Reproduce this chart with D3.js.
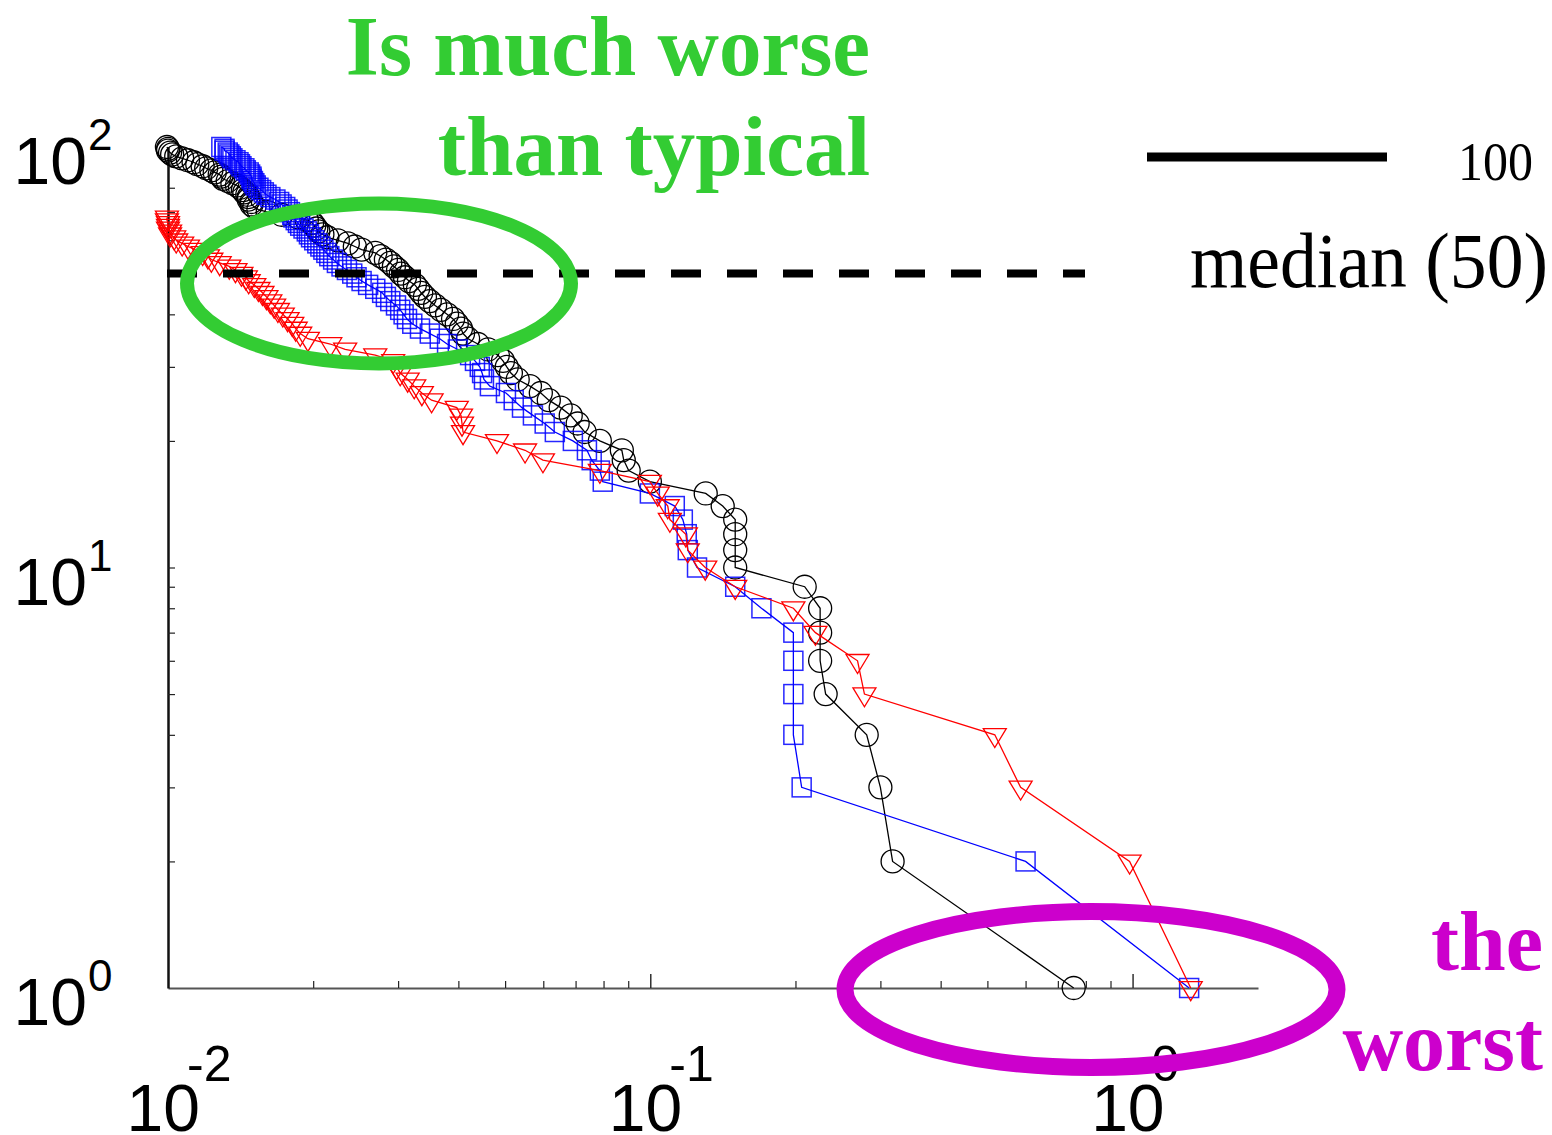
<!DOCTYPE html>
<html>
<head>
<meta charset="utf-8">
<script src="https://cdn.jsdelivr.net/npm/d3@7"></script>
<style>
  html, body { margin: 0; padding: 0; background: #fff; }
  svg { display: block; }
</style>
</head>
<body>
<svg id="chart" width="1552" height="1135"></svg>
<script>
// Rank of each entry (1 = worst), shared by the three curves
const ranks = [
  1, 2, 3, 4, 5, 6, 7, 8, 9, 10, 11, 12, 13, 14, 15, 16, 17, 18, 19, 20,
  21, 22, 23, 24, 25, 26, 27, 28, 29, 30, 31, 32, 33, 34, 35, 36, 37, 38, 39, 40,
  41, 42, 43, 44, 45, 46, 47, 48, 49, 50, 51, 52, 53, 54, 55, 56, 57, 58, 59, 60,
  61, 62, 63, 64, 65, 66, 67, 68, 69, 70, 71, 72, 73, 74, 75, 76, 77, 78, 79, 80,
  81, 82, 83, 84, 85, 86, 87, 88, 89, 90, 91, 92, 93, 94, 95, 96, 97, 98, 99, 100
];

// Black circles: value at each rank
const blackX = [
  0.755, 0.318, 0.300, 0.281, 0.231, 0.225, 0.225, 0.225, 0.209, 0.150,
  0.150, 0.150, 0.150, 0.1413, 0.1303, 0.0998, 0.0902, 0.0881, 0.0873, 0.0786,
  0.0731, 0.0707, 0.0684, 0.0652, 0.0616, 0.0593, 0.0563, 0.0531, 0.0514, 0.0504,
  0.0495, 0.0483, 0.0461, 0.0439, 0.0419, 0.0409, 0.0405, 0.0397, 0.0390, 0.0379,
  0.0368, 0.0358, 0.0349, 0.0341, 0.0335, 0.0330, 0.0325, 0.0316, 0.0310, 0.0304,
  0.0300, 0.0294, 0.0289, 0.0283, 0.0276, 0.0269, 0.0252, 0.0244, 0.0236, 0.0225,
  0.0214, 0.0209, 0.0205, 0.0203, 0.0201, 0.0199, 0.0194, 0.0186, 0.0172, 0.0161,
  0.0154, 0.0151, 0.0149, 0.0149, 0.0147, 0.0147, 0.0146, 0.0144, 0.0143, 0.0141,
  0.0139, 0.0136, 0.0133, 0.0130, 0.0129, 0.0128, 0.0125, 0.0123, 0.0120, 0.0118,
  0.0115, 0.0113, 0.0110, 0.0107, 0.0104, 0.0102, 0.0101, 0.0100, 0.0100, 0.00995
];

// Blue squares
const blueX = [
  1.31, 0.600, 0.206, 0.198, 0.198, 0.198, 0.198, 0.170, 0.150, 0.125,
  0.1196, 0.119, 0.1168, 0.1124, 0.0998, 0.0797, 0.0786, 0.0756, 0.0739, 0.0691,
  0.0634, 0.0604, 0.0571, 0.0542, 0.0521, 0.0502, 0.0465, 0.0452, 0.0448, 0.0443,
  0.0433, 0.0423, 0.0399, 0.0379, 0.0366, 0.0349, 0.0333, 0.0321, 0.0313, 0.0308,
  0.0303, 0.0297, 0.0289, 0.0283, 0.0278, 0.0269, 0.0260, 0.0252, 0.0246, 0.0241,
  0.0235, 0.0229, 0.0224, 0.0220, 0.0216, 0.0213, 0.0210, 0.0207, 0.0204, 0.0201,
  0.0198, 0.0196, 0.0194, 0.0191, 0.0188, 0.0186, 0.0184, 0.0182, 0.0181, 0.0179,
  0.0177, 0.0175, 0.0172, 0.0170, 0.0167, 0.0163, 0.0160, 0.0158, 0.0156, 0.0154,
  0.0152, 0.0151, 0.0150, 0.0149, 0.0149, 0.0148, 0.0147, 0.0145, 0.0144, 0.0142,
  0.0141, 0.0140, 0.0138, 0.0136, 0.0135, 0.0134, 0.0133, 0.0131, 0.0131, 0.0129
];

// Red triangles (68 ranks)
const redX = [
  1.32, 0.986, 0.586, 0.518, 0.278, 0.269, 0.220, 0.198, 0.150, 0.130,
  0.1196, 0.1185, 0.1098, 0.1087, 0.1036, 0.0998, 0.0786, 0.0599, 0.0550, 0.0481,
  0.0409, 0.0407, 0.0405, 0.0397, 0.0352, 0.0336, 0.0324, 0.0314, 0.0303, 0.0298,
  0.0293, 0.0269, 0.0233, 0.0217, 0.0195, 0.0188, 0.0184, 0.0181, 0.0177, 0.0173,
  0.0169, 0.0166, 0.0163, 0.0160, 0.0157, 0.0154, 0.0151, 0.0147, 0.0145, 0.0142,
  0.0138, 0.0134, 0.0128, 0.0123, 0.0121, 0.0118, 0.0114, 0.0110, 0.0107, 0.0104,
  0.0103, 0.0101, 0.0101, 0.0100, 0.0100, 0.0100, 0.00995, 0.00995
];

const xMajorTicks = [0.01, 0.1, 1];
const xMajorExps = ["-2", "-1", "0"];
const yMajorTicks = [1, 10, 100];
const yMajorExps = ["0", "1", "2"];

const medianValue = 50;
const legendLabels = ["100", "median (50)"];
const noteTop = ["Is much worse", "than typical"];
const noteBottom = ["the", "worst"];

const svg = d3.select("#chart");
const sans = "'Liberation Sans', Arial, sans-serif";
const serif = "'Liberation Serif', 'Times New Roman', serif";

const x = d3.scaleLog().domain([0.01, 1.82]).range([168, 1258]);
const y = d3.scaleLog().domain([1, 100]).range([988, 147]);

// ---- axes (ticks point inward) ----
const xMinor = x.ticks().filter(v => !xMajorTicks.some(m => Math.abs(m - v) < 1e-9));
const yMinor = y.ticks().filter(v => !yMajorTicks.some(m => Math.abs(m - v) < 1e-9));

const gx = svg.append("g").attr("transform", `translate(0,${y(1)})`)
  .call(d3.axisBottom(x).tickValues(xMinor).tickSizeInner(-7).tickSizeOuter(0).tickFormat(""));
gx.select(".domain").attr("stroke", "#555").attr("stroke-width", 2);
gx.selectAll(".tick line").attr("stroke", "#222").attr("stroke-width", 1.2);

const gxMaj = svg.append("g").attr("transform", `translate(0,${y(1)})`)
  .call(d3.axisBottom(x).tickValues(xMajorTicks.slice(1)).tickSizeInner(-14).tickSizeOuter(0).tickFormat(""));
gxMaj.select(".domain").remove();
gxMaj.selectAll(".tick line").attr("stroke", "#222").attr("stroke-width", 1.4);

const gy = svg.append("g").attr("transform", `translate(${x(0.01)},0)`)
  .call(d3.axisLeft(y).tickValues(yMinor.concat([10])).tickSizeInner(-7).tickSizeOuter(0).tickFormat(""));
gy.select(".domain").attr("stroke", "#111").attr("stroke-width", 2.5);
gy.selectAll(".tick line").attr("stroke", "#222").attr("stroke-width", 1.2);

// ---- tick labels: "10" with a superscript exponent, one text element each ----
xMajorTicks.forEach((v, i) => {
  const px = x(v);
  const t = svg.append("text").attr("font-family", sans);
  t.append("tspan").attr("x", px + 32).attr("y", 1131)
    .attr("text-anchor", "end").attr("font-size", 66).text("10");
  t.append("tspan").attr("x", px + 19).attr("y", 1081)
    .attr("text-anchor", "start").attr("font-size", 50).text(xMajorExps[i]);
});
yMajorTicks.forEach((v, i) => {
  const py = y(v);
  const t = svg.append("text").attr("font-family", sans);
  t.append("tspan").attr("x", 87).attr("y", py + 37)
    .attr("text-anchor", "end").attr("font-size", 66).text("10");
  t.append("tspan").attr("x", 88).attr("y", py + 3)
    .attr("text-anchor", "start").attr("font-size", 44).text(yMajorExps[i]);
});

// ---- series ----
const toPoints = vals => vals.map((v, i) => ({ v: v, r: ranks[i] }));
const line = d3.line().x(d => x(d.v)).y(d => y(d.r));

function drawSeries(vals, color, shape) {
  const pts = toPoints(vals);
  const g = svg.append("g");
  g.append("path").datum(pts).attr("d", line)
    .attr("fill", "none").attr("stroke", color).attr("stroke-width", 1.3);
  const m = g.selectAll(".m").data(pts).enter();
  if (shape === "circle") {
    m.append("circle").attr("cx", d => x(d.v)).attr("cy", d => y(d.r)).attr("r", 11.5)
      .attr("fill", "none").attr("stroke", color).attr("stroke-width", 1.3);
  } else if (shape === "square") {
    m.append("rect").attr("x", d => x(d.v) - 9.5).attr("y", d => y(d.r) - 9.5)
      .attr("width", 19).attr("height", 19)
      .attr("fill", "none").attr("stroke", color).attr("stroke-width", 1.5).attr("stroke-opacity", 0.85);
  } else {
    m.append("path")
      .attr("d", d => {
        const cx = x(d.v), cy = y(d.r);
        return `M${cx - 11.5},${cy - 6.3}L${cx + 11.5},${cy - 6.3}L${cx},${cy + 12.7}Z`;
      })
      .attr("fill", "none").attr("stroke", color).attr("stroke-width", 1.3);
  }
}

drawSeries(blackX, "#000000", "circle");
drawSeries(blueX, "#0000ff", "square");
drawSeries(redX, "#ff0000", "triangle");

// ---- median reference line and legend ----
svg.append("line").attr("x1", 167).attr("x2", 1085)
  .attr("y1", y(medianValue)).attr("y2", y(medianValue))
  .attr("stroke", "#000").attr("stroke-width", 8).attr("stroke-dasharray", "30,26");

svg.append("line").attr("x1", 1147).attr("x2", 1387).attr("y1", 157).attr("y2", 157)
  .attr("stroke", "#000").attr("stroke-width", 9);
svg.append("text").attr("x", 1458).attr("y", 180)
  .attr("font-family", serif).attr("font-size", 54)
  .attr("textLength", 75).attr("lengthAdjust", "spacingAndGlyphs").text(legendLabels[0]);
svg.append("text").attr("x", 1190).attr("y", 287)
  .attr("font-family", serif).attr("font-size", 78)
  .attr("textLength", 358).attr("lengthAdjust", "spacingAndGlyphs").text(legendLabels[1]);

// ---- highlight rings ----
svg.append("ellipse").attr("cx", 379).attr("cy", 283.5).attr("rx", 192).attr("ry", 80)
  .attr("fill", "none").attr("stroke", "#33cc33").attr("stroke-width", 14);
svg.append("ellipse").attr("cx", 1091).attr("cy", 989.5).attr("rx", 246).attr("ry", 78)
  .attr("fill", "none").attr("stroke", "#cc00cc").attr("stroke-width", 17);

// ---- annotations ----
noteTop.forEach((t, i) => {
  svg.append("text").attr("x", 870).attr("y", 75 + i * 100)
    .attr("text-anchor", "end").attr("font-family", serif).attr("font-weight", "bold")
    .attr("font-size", 85).attr("fill", "#33cc33").text(t);
});
noteBottom.forEach((t, i) => {
  svg.append("text").attr("x", 1543).attr("y", 970 + i * 100)
    .attr("text-anchor", "end").attr("font-family", serif).attr("font-weight", "bold")
    .attr("font-size", 84).attr("fill", "#cc00cc").text(t);
});
</script>
</body>
</html>
